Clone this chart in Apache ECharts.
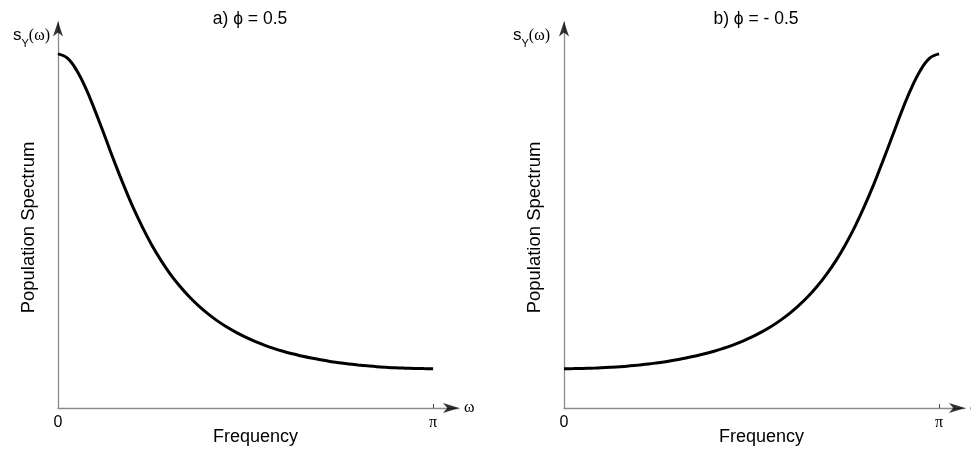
<!DOCTYPE html>
<html>
<head>
<meta charset="utf-8">
<script src="https://cdn.jsdelivr.net/npm/echarts@6.0.0/dist/echarts.min.js"></script>
<style>html,body{margin:0;padding:0;background:#fff}#c{width:971px;height:452px}</style>
</head>
<body>
<div id="c"></div>
<script>
// Frequencies (radians) read along the x axis, 0 .. pi
const freq = [0, 0.079, 0.157, 0.236, 0.314, 0.393, 0.471, 0.550, 0.628, 0.707, 0.785,
              0.864, 0.942, 1.021, 1.100, 1.178, 1.257, 1.335, 1.414, 1.492, 1.571,
              1.649, 1.728, 1.806, 1.885, 1.963, 2.042, 2.121, 2.199, 2.278, 2.356,
              2.435, 2.513, 2.592, 2.670, 2.749, 2.827, 2.906, 2.985, 3.063, 3.142];
// Panel a) phi = 0.5 : spectrum
const specA = [4.000, 3.951, 3.812, 3.602, 3.345, 3.066, 2.786, 2.517, 2.268, 2.043, 1.842,
               1.665, 1.510, 1.375, 1.256, 1.153, 1.063, 0.984, 0.914, 0.854, 0.800,
               0.753, 0.711, 0.674, 0.641, 0.612, 0.587, 0.564, 0.544, 0.526, 0.511,
               0.497, 0.486, 0.476, 0.467, 0.460, 0.454, 0.450, 0.447, 0.445, 0.444];
// Panel b) phi = -0.5
const specB = [0.444, 0.445, 0.447, 0.450, 0.454, 0.460, 0.467, 0.476, 0.486, 0.497, 0.511,
               0.526, 0.544, 0.564, 0.587, 0.612, 0.641, 0.674, 0.711, 0.753, 0.800,
               0.854, 0.914, 0.984, 1.063, 1.153, 1.256, 1.375, 1.510, 1.665, 1.842,
               2.043, 2.268, 2.517, 2.786, 3.066, 3.345, 3.602, 3.812, 3.951, 4.000];
const titles = ['a) \u03d5 = 0.5', 'b) \u03d5 = - 0.5'];
const xTickValues = [0, Math.PI];
const xTickLabels = ['0', '\u03c0'];

const X_MAX = 3.359, Y_MAX = 4.36;
const AXIS_GRAY = '#8c8c8c';
const upArrow = 'path://M5,0 L10,15 L5,11 L0,15 Z';
const rightArrow = 'path://M15,5 L0,10 L4,5 L0,0 Z';

const grids = [
  {left: 58, top: 22, width: 401, height: 386, outerBoundsMode: 'none'},
  {left: 564, top: 22, width: 401, height: 386, outerBoundsMode: 'none'}
];

const xAxes = [], yAxes = [], series = [];
[specA, specB].forEach((spec, i) => {
  xAxes.push({
    gridIndex: i, type: 'value', min: 0, max: X_MAX,
    name: 'Frequency', nameLocation: 'middle', nameGap: 20, nameMoveOverlap: false,
    nameTextStyle: {fontFamily: 'Liberation Sans', fontSize: 18, color: '#000', padding: [0, 6, 0, 0]},
    axisLine: {show: true, lineStyle: {color: AXIS_GRAY, width: 1.3}},
    axisTick: {show: true, inside: true, length: 4, customValues: [Math.PI], lineStyle: {color: '#444', width: 1}},
    axisLabel: {
      show: true, margin: 7, customValues: xTickValues,
      formatter: v => (v === 0 ? '{z|' + xTickLabels[0] + '}' : '{p|' + xTickLabels[1] + '}'),
      rich: {
        z: {fontFamily: 'Liberation Sans', fontSize: 16, color: '#000'},
        p: {fontFamily: 'Liberation Serif', fontSize: 16, color: '#000'}
      }
    },
    splitLine: {show: false}
  });
  xAxes.push({
    gridIndex: i, type: 'value', min: 0, max: X_MAX, position: 'bottom',
    name: '\u03c9', nameLocation: 'end', nameGap: 5,
    nameTextStyle: {fontFamily: 'Liberation Serif', fontSize: 16, color: '#000', padding: [8, 0, 0, 0]},
    axisLine: {show: false}, axisTick: {show: false}, axisLabel: {show: false}, splitLine: {show: false}
  });
  yAxes.push({
    gridIndex: i, type: 'value', min: 0, max: Y_MAX,
    name: 'Population Spectrum', nameLocation: 'middle', nameGap: 20,
    nameTextStyle: {fontFamily: 'Liberation Sans', fontSize: 18.5, color: '#000', padding: [0, 25, 0, 0]},
    axisLine: {show: true, lineStyle: {color: AXIS_GRAY, width: 1.3}},
    axisTick: {show: false}, axisLabel: {show: false}, splitLine: {show: false}
  });
  series.push({
    type: 'line', xAxisIndex: i * 2, yAxisIndex: i,
    data: freq.map((f, k) => [f, spec[k]]),
    smooth: 0.4, showSymbol: false, symbol: 'none',
    lineStyle: {color: '#000', width: 3}, silent: true, animation: false
  });
  series.push({
    type: 'scatter', xAxisIndex: i * 2, yAxisIndex: i, clip: false, silent: true,
    data: [
      {value: [X_MAX, 0], symbol: rightArrow, symbolSize: [16, 10], symbolOffset: [-8, 0]},
      {value: [0, Y_MAX], symbol: upArrow, symbolSize: [10, 15], symbolOffset: [0, 7]}
    ],
    itemStyle: {color: '#000'}, animation: false, z: 5
  });
});

function subLabel(left) {
  return {
    left: left, top: 22,
    text: '{s|s}{y|Y}{p|(\u03c9)}',
    textStyle: {
      fontWeight: 'normal',
      rich: {
        s: {fontFamily: 'Liberation Sans', fontSize: 17, fontWeight: 'normal', color: '#000', verticalAlign: 'bottom'},
        y: {fontFamily: 'Liberation Sans', fontSize: 11, fontWeight: 'normal', color: '#000', padding: [0, 0, -5, 0], verticalAlign: 'bottom'},
        p: {fontFamily: 'Liberation Serif', fontSize: 16, fontWeight: 'normal', color: '#000', verticalAlign: 'bottom'}
      }
    }
  };
}

const chart = echarts.init(document.getElementById('c'), null, {renderer: 'canvas'});
chart.setOption({
  animation: false,
  backgroundColor: '#fff',
  title: [
    {text: titles[0], left: 245, top: 5, textAlign: 'center',
     textStyle: {fontFamily: 'Liberation Sans', fontSize: 17.5, fontWeight: 'normal', color: '#000'}},
    {text: titles[1], left: 751, top: 5, textAlign: 'center',
     textStyle: {fontFamily: 'Liberation Sans', fontSize: 17.5, fontWeight: 'normal', color: '#000'}},
    subLabel(8),
    subLabel(508)
  ],
  grid: grids,
  xAxis: xAxes,
  yAxis: yAxes,
  series: series
});
</script>
</body>
</html>
